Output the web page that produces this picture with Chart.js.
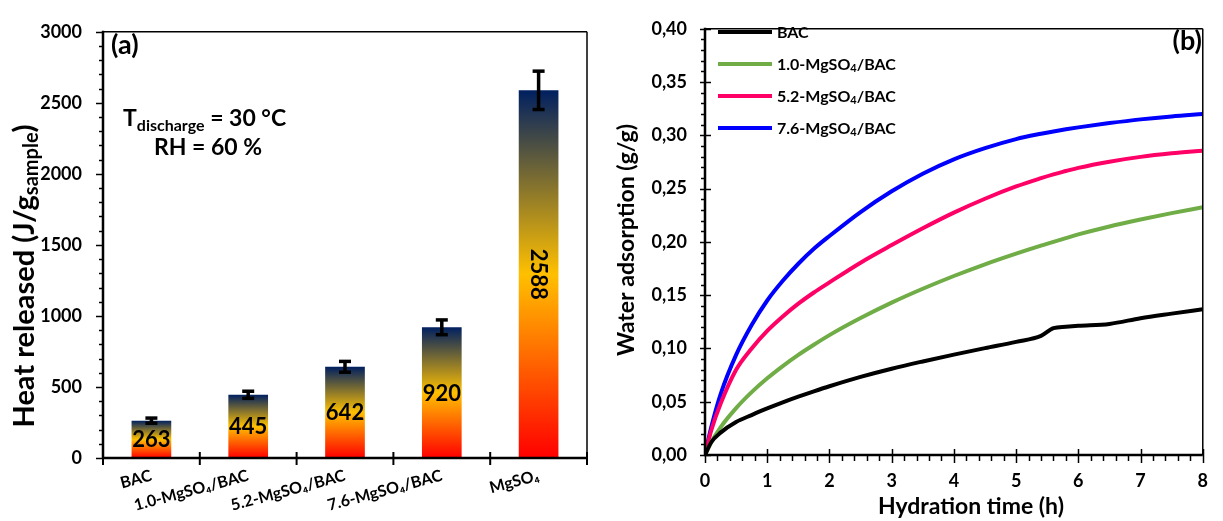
<!DOCTYPE html>
<html><head><meta charset="utf-8">
<script src="https://cdn.jsdelivr.net/npm/chart.js@4.4.0/dist/chart.umd.min.js"></script>
<style>
html,body{margin:0;padding:0;background:#fff;}
#wrap{position:relative;width:1223px;height:521px;overflow:hidden;}
#boxA{position:absolute;left:0;top:0;width:600px;height:521px;}
#boxB{position:absolute;left:600px;top:0;width:623px;height:521px;}
</style></head><body>
<div id="wrap">
  <div id="boxA"><canvas id="chartA" width="600" height="521"></canvas></div>
  <div id="boxB"><canvas id="chartB" width="623" height="521"></canvas></div>
</div>
<script>
// ---------- data: panel (a) ----------
const categories = ['BAC', '1.0-MgSO\u2084/BAC', '5.2-MgSO\u2084/BAC', '7.6-MgSO\u2084/BAC', 'MgSO\u2084'];
const heatReleased = [263, 445, 642, 920, 2588];
const heatError = [18, 25, 38, 52, 135];
const heatAxis = { min: 0, max: 3000, step: 500, minorStep: 100 };

// ---------- data: panel (b) ----------
const hours = [0, 0.1, 0.25, 0.5, 0.75, 1, 1.25, 1.5, 1.75, 2, 2.5, 3, 3.5, 4, 4.5, 5, 5.4, 5.6, 5.8, 6, 6.5, 7, 7.5, 8];
const seriesNames = ['BAC', '1.0-MgSO4/BAC', '5.2-MgSO4/BAC', '7.6-MgSO4/BAC'];
const uptakeBAC = [0, 0.012, 0.021, 0.031, 0.0375, 0.0437, 0.0494, 0.0547, 0.0597, 0.0645, 0.0733, 0.0810, 0.0878, 0.0942, 0.1003, 0.1062, 0.1118, 0.1190, 0.1203, 0.1212, 0.1230, 0.1284, 0.1327, 0.1368];
const uptake10 = [0, 0.012, 0.026, 0.044, 0.059, 0.072, 0.0835, 0.094, 0.1035, 0.1125, 0.1285, 0.1430, 0.1560, 0.1680, 0.1790, 0.1890, 0.1965, 0.2000, 0.2035, 0.2070, 0.2145, 0.2210, 0.2270, 0.2325];
const uptake52 = [0, 0.023, 0.048, 0.080, 0.100, 0.1165, 0.1300, 0.1420, 0.1525, 0.1620, 0.1805, 0.1970, 0.2128, 0.2275, 0.2405, 0.2520, 0.2598, 0.2634, 0.2665, 0.2695, 0.2753, 0.2798, 0.2831, 0.2856];
const uptake76 = [0, 0.026, 0.057, 0.094, 0.122, 0.145, 0.1635, 0.1795, 0.1935, 0.2055, 0.2280, 0.2475, 0.2640, 0.2775, 0.2880, 0.2965, 0.3015, 0.3037, 0.3057, 0.3075, 0.3115, 0.3150, 0.3178, 0.3200];
const waterAxis = { min: 0, max: 0.40, step: 0.05, minorStep: 0.01 };
const timeAxis = { min: 0, max: 8, step: 1, minorStep: 0.2 };

// ---------- styling helpers ----------
const FONT = 'Lato, "Open Sans", "DejaVu Sans", sans-serif';
const font = s => `bold ${s}px ${FONT}`;
const lineColors = ['#000000', '#70AD47', '#FF0066', '#0000FF'];

function drawRich(ctx, parts, x, y, align) {
  let w = 0;
  parts.forEach(p => { ctx.font = font(p.s); p.w = ctx.measureText(p.t).width; w += p.w; });
  let cx = align === 'center' ? x - w / 2 : (align === 'right' ? x - w : x);
  ctx.textAlign = 'left';
  parts.forEach(p => { ctx.font = font(p.s); ctx.fillText(p.t, cx, y + (p.dy || 0)); cx += p.w; });
}
function line(ctx, x1, y1, x2, y2) { ctx.beginPath(); ctx.moveTo(x1, y1); ctx.lineTo(x2, y2); ctx.stroke(); }

function barGradient(context) {
  const chart = context.chart;
  const y = chart.scales && chart.scales.y;
  if (!y || context.type !== 'data') return '#FFC000';
  const top = y.getPixelForValue(context.raw), base = y.getPixelForValue(0);
  if (!isFinite(top) || !isFinite(base) || top === base) return '#FFC000';
  const g = chart.ctx.createLinearGradient(0, base, 0, top);
  g.addColorStop(0, '#FF0000');
  g.addColorStop(0.5, '#FFC000');
  g.addColorStop(1, '#002060');
  return g;
}

// ---------- panel (a) plugin ----------
const panelA = {
  id: 'panelA',
  afterDatasetsDraw(chart) {
    const ctx = chart.ctx, ca = chart.chartArea, ys = chart.scales.y;
    ctx.save();
    ctx.strokeStyle = '#000'; ctx.fillStyle = '#000';
    const meta = chart.getDatasetMeta(0);
    // value labels
    ctx.font = font(22); ctx.textAlign = 'center'; ctx.textBaseline = 'middle';
    meta.data.forEach((el, i) => {
      const cy = (el.y + el.base) / 2;
      if (i === heatReleased.length - 1) {
        ctx.save(); ctx.translate(el.x, cy); ctx.rotate(Math.PI / 2);
        ctx.fillText(String(heatReleased[i]), 0, 1); ctx.restore();
      } else {
        ctx.fillText(String(heatReleased[i]), el.x, cy + 1);
      }
    });
    // error bars
    ctx.lineWidth = 3.5;
    meta.data.forEach((el, i) => {
      const yt = ys.getPixelForValue(heatReleased[i] + heatError[i]);
      const yb = ys.getPixelForValue(heatReleased[i] - heatError[i]);
      line(ctx, el.x, yt, el.x, yb);
      line(ctx, el.x - 6, yt, el.x + 6, yt);
      line(ctx, el.x - 6, yb, el.x + 6, yb);
    });
    // frame
    ctx.lineWidth = 1.5;
    line(ctx, ca.left, ca.top, ca.right, ca.top);
    line(ctx, ca.right, ca.top, ca.right, ca.bottom);
    ctx.lineWidth = 2.5;
    line(ctx, ca.left, ca.top - 1, ca.left, ca.bottom + 1);
    line(ctx, ca.left - 1, ca.bottom, ca.right, ca.bottom);
    // y ticks
    ctx.lineWidth = 1.5;
    for (let v = heatAxis.min; v <= heatAxis.max + 1e-9; v += heatAxis.minorStep) {
      const py = Math.round(ys.getPixelForValue(v)) + 0.5;
      const major = Math.abs(v / heatAxis.step - Math.round(v / heatAxis.step)) < 1e-6;
      line(ctx, ca.left - (major ? 7 : 4), py, ca.left, py);
    }
    // x category boundary ticks
    ctx.lineWidth = 2;
    const n = categories.length;
    for (let i = 0; i <= n; i++) {
      const px = ca.left + i * (ca.right - ca.left) / n;
      line(ctx, px, ca.bottom - 6, px, ca.bottom + 7);
    }
    // annotations
    ctx.textBaseline = 'alphabetic';
    drawRich(ctx, [{ t: '(a)', s: 27 }], 111, 54, 'left');
    drawRich(ctx, [{ t: 'T', s: 23 }, { t: 'discharge', s: 16, dy: 5 }, { t: ' = 30 \u00B0C', s: 23 }], 123, 126, 'left');
    drawRich(ctx, [{ t: 'RH = 60 %', s: 23 }], 208, 155, 'center');
    // y title
    ctx.save();
    ctx.translate(34, 276); ctx.rotate(-Math.PI / 2);
    drawRich(ctx, [{ t: 'Heat released (J/g', s: 29 }, { t: 'sample', s: 20, dy: 4 }, { t: ')', s: 29 }], 0, 0, 'center');
    ctx.restore();
    ctx.restore();
  }
};

new Chart(document.getElementById('chartA'), {
  type: 'bar',
  data: {
    labels: categories,
    datasets: [{ label: 'Heat released', data: heatReleased, backgroundColor: barGradient, borderWidth: 0, barPercentage: 0.41, categoryPercentage: 1 }]
  },
  options: {
    responsive: false, animation: false, devicePixelRatio: 1,
    layout: { padding: { top: 17, right: 13, left: 0, bottom: 0 } },
    plugins: { legend: { display: false }, tooltip: { enabled: false } },
    scales: {
      x: {
        grid: { display: false, drawTicks: false }, border: { display: false },
        ticks: { color: '#000', font: { family: FONT, weight: 'bold', size: 16 }, minRotation: 15, maxRotation: 15, padding: 8, autoSkip: false },
        afterFit: s => { s.height = 63; }
      },
      y: {
        min: heatAxis.min, max: heatAxis.max,
        grid: { display: false, drawTicks: false }, border: { display: false },
        ticks: { stepSize: heatAxis.step, color: '#000', font: { family: FONT, weight: 'bold', size: 18 }, padding: 21,
          callback: v => String(v) },
        afterFit: s => { s.width = 103; }
      }
    }
  },
  plugins: [panelA]
});

// ---------- panel (b) plugin ----------
const panelB = {
  id: 'panelB',
  afterDatasetsDraw(chart) {
    const ctx = chart.ctx, ca = chart.chartArea, ys = chart.scales.y, xs = chart.scales.x;
    ctx.save();
    ctx.strokeStyle = '#000'; ctx.fillStyle = '#000';
    ctx.lineWidth = 1.5;
    line(ctx, ca.left, ca.top, ca.right, ca.top);
    line(ctx, ca.right, ca.top, ca.right, ca.bottom);
    ctx.lineWidth = 2.5;
    line(ctx, ca.left, ca.top - 1, ca.left, ca.bottom + 1);
    line(ctx, ca.left - 1, ca.bottom, ca.right, ca.bottom);
    ctx.lineWidth = 1.5;
    for (let k = 0; k <= Math.round((waterAxis.max - waterAxis.min) / waterAxis.minorStep); k++) {
      const v = waterAxis.min + k * waterAxis.minorStep;
      const py = Math.round(ys.getPixelForValue(v)) + 0.5;
      const major = k % Math.round(waterAxis.step / waterAxis.minorStep) === 0;
      if (major) line(ctx, ca.left - 5, py, ca.left + 6, py); else line(ctx, ca.left - 4, py, ca.left, py);
    }
    for (let k = 0; k <= Math.round((timeAxis.max - timeAxis.min) / timeAxis.minorStep); k++) {
      const v = timeAxis.min + k * timeAxis.minorStep;
      const px = Math.round(xs.getPixelForValue(v)) + 0.5;
      const major = k % Math.round(timeAxis.step / timeAxis.minorStep) === 0;
      if (major) line(ctx, px, ca.bottom - 6, px, ca.bottom + 8); else line(ctx, px, ca.bottom, px, ca.bottom + 6);
    }
    // legend
    const names = [[{ t: 'BAC', s: 16 }],
      [{ t: '1.0-MgSO', s: 16 }, { t: '4', s: 11, dy: 3 }, { t: '/BAC', s: 16 }],
      [{ t: '5.2-MgSO', s: 16 }, { t: '4', s: 11, dy: 3 }, { t: '/BAC', s: 16 }],
      [{ t: '7.6-MgSO', s: 16 }, { t: '4', s: 11, dy: 3 }, { t: '/BAC', s: 16 }]];
    ctx.textBaseline = 'middle';
    chart.data.datasets.forEach((ds, i) => {
      const yy = 32 + i * 32;
      ctx.strokeStyle = ds.borderColor; ctx.lineWidth = 4;
      line(ctx, 118, yy, 172, yy);
      ctx.fillStyle = '#000';
      drawRich(ctx, names[i], 177, yy + 1, 'left');
    });
    ctx.textBaseline = 'alphabetic';
    drawRich(ctx, [{ t: '(b)', s: 27 }], 602, 50, 'right');
    drawRich(ctx, [{ t: 'Hydration time (h)', s: 23 }], 371, 514, 'center');
    ctx.save();
    ctx.translate(27, 240); ctx.rotate(-Math.PI / 2);
    ctx.textBaseline = 'middle';
    drawRich(ctx, [{ t: 'Water adsorption (g/g)', s: 23 }], 0, 0, 'center');
    ctx.restore();
    ctx.restore();
  }
};

const seriesValues = [uptakeBAC, uptake10, uptake52, uptake76];
new Chart(document.getElementById('chartB'), {
  type: 'line',
  data: {
    datasets: seriesValues.map((vals, i) => ({
      label: seriesNames[i],
      data: hours.map((h, j) => ({ x: h, y: vals[j] })),
      borderColor: lineColors[i], borderWidth: 4, pointRadius: 0,
      cubicInterpolationMode: 'monotone', fill: false
    }))
  },
  options: {
    responsive: false, animation: false, devicePixelRatio: 1,
    layout: { padding: { top: 14, right: 10, left: 0, bottom: 0 } },
    plugins: { legend: { display: false }, tooltip: { enabled: false } },
    scales: {
      x: {
        type: 'linear', min: timeAxis.min, max: timeAxis.max,
        grid: { display: false, drawTicks: false }, border: { display: false },
        ticks: { stepSize: timeAxis.step, color: '#000', font: { family: FONT, weight: 'bold', size: 18 }, padding: 15 },
        afterFit: s => { s.height = 66; }
      },
      y: {
        min: waterAxis.min, max: waterAxis.max,
        grid: { display: false, drawTicks: false }, border: { display: false },
        ticks: { stepSize: waterAxis.step, color: '#000', font: { family: FONT, weight: 'bold', size: 18 }, padding: 18,
          callback: v => Number(v).toFixed(2).replace('.', ',') },
        afterFit: s => { s.width = 105; }
      }
    }
  },
  plugins: [panelB]
});
</script>
</body></html>
